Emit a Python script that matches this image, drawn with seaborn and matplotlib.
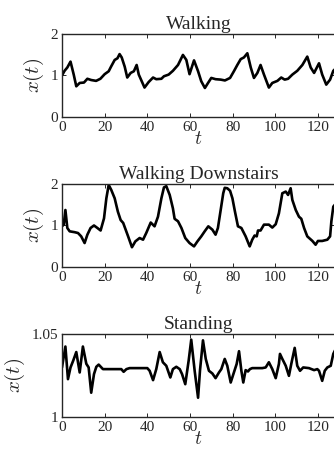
import numpy as np
import matplotlib
matplotlib.use("Agg")
import matplotlib.pyplot as plt
import seaborn as sns

# values (t, x(t)) for each activity
t_walk = [0, 1.2, 2.5, 4, 5.5, 6.7, 8.3, 10.3, 11.9, 13.7, 16, 18, 20, 21.9, 23, 24.7,
          26, 27, 28, 29.4, 30.6, 32.2, 33.7, 35, 36, 38.7, 40.6, 42.7, 44.2, 46.6,
          47.8, 50, 52, 54.4, 56.7, 58.3, 59.8, 61.9, 63.8, 65.3, 67, 68.6, 70, 72,
          74.4, 76.4, 78.8, 80.6, 82.2, 83.8, 85.3, 86.9, 88.5, 90, 91.6, 93.1, 94.7,
          97, 98.6, 101, 102.8, 104.4, 106, 108, 110.3, 112.7, 115, 116.6, 118.2,
          120.5, 122, 123.9, 125.7, 127.2, 128]
x_walk = [1.0, 1.11, 1.19, 1.33, 1.02, 0.74, 0.82, 0.83, 0.92, 0.89, 0.87, 0.92, 1.03,
          1.1, 1.21, 1.37, 1.41, 1.51, 1.43, 1.21, 0.95, 1.06, 1.1, 1.25, 1.02, 0.71,
          0.84, 0.95, 0.91, 0.92, 0.98, 1.02, 1.11, 1.25, 1.49, 1.37, 1.03, 1.36, 1.1,
          0.86, 0.70, 0.83, 0.94, 0.91, 0.90, 0.88, 0.94, 1.1, 1.25, 1.39, 1.43, 1.53,
          1.19, 0.94, 1.06, 1.25, 1.02, 0.71, 0.82, 0.87, 0.95, 0.90, 0.92, 1.02, 1.11,
          1.25, 1.45, 1.19, 1.06, 1.29, 1.02, 0.78, 0.9, 1.11, 1.15]

t_down = [0, 0.8, 1.6, 2.5, 3.6, 5.9, 7.5, 9, 10.6, 11.9, 13.4, 15, 16.6, 18.1, 19.7,
          20.8, 21.9, 23.1, 24.7, 26.2, 27.5, 28.7, 31, 32.8, 34.4, 36.4, 38, 39.5,
          41.6, 43.4, 45, 46.6, 47.8, 48.9, 50.5, 52, 52.8, 54.4, 56, 57.8, 59.8, 61.9,
          63.5, 65.3, 66.9, 68.6, 70.5, 72, 73.1, 74.4, 75.6, 76.3, 77.5, 78.8, 79.9,
          81.1, 82.5, 84.1, 86.1, 88, 89.2, 90.3, 91.3, 91.9, 93.1, 94.7, 97, 98.6,
          100.2, 101.7, 103.3, 104.9, 106, 107.2, 108, 109.6, 111.1, 112.2, 113.5, 115,
          117.4, 118.9, 120, 122, 124.4, 125.7, 126.3, 127.2, 128]
x_down = [0.98, 1.02, 1.37, 0.94, 0.86, 0.84, 0.82, 0.74, 0.58, 0.78, 0.94, 1.0, 0.94,
          0.88, 1.17, 1.65, 1.97, 1.85, 1.65, 1.33, 1.13, 1.06, 0.74, 0.48, 0.62, 0.70,
          0.66, 0.82, 1.07, 0.98, 1.21, 1.65, 1.91, 1.94, 1.73, 1.41, 1.16, 1.1, 0.94,
          0.70, 0.58, 0.50, 0.62, 0.74, 0.86, 0.98, 0.90, 0.78, 0.94, 1.37, 1.77, 1.9,
          1.89, 1.83, 1.65, 1.33, 0.98, 0.94, 0.74, 0.50, 0.66, 0.76, 0.74, 0.88, 0.88,
          1.02, 1.02, 0.95, 1.03, 1.29, 1.77, 1.81, 1.73, 1.89, 1.61, 1.37, 1.21, 1.16,
          0.94, 0.74, 0.63, 0.54, 0.63, 0.63, 0.66, 0.74, 1.1, 1.45, 1.5]

t_stand = [0, 1.6, 2.8, 4, 5.3, 6.7, 8.3, 9.8, 11.4, 12.5, 13.7, 15, 16.1, 17.2, 19.2,
           23.1, 27.8, 28.9, 30.2, 31.7, 35.6, 40, 41.1, 42.7, 44.2, 45.8, 47.3, 48.9,
           50.8, 52, 53.6, 55.2, 56.3, 57.8, 59.4, 60.6, 62.2, 63.8, 64.7, 66.1, 67.4,
           68.9, 70.5, 72, 73.6, 74.7, 76.3, 77.5, 79.1, 80.6, 81.9, 83, 84.1, 85, 86.1,
           87.2, 88.1, 89.2, 93.9, 95.5, 97, 98.6, 100.2, 101.7, 102.2, 103.3, 104.9,
           106.4, 107.5, 109.1, 110.3, 111.6, 113.1, 115.8, 118.2, 119.7, 120.5, 122,
           123.2, 124.4, 126, 127.2, 128]
x_stand = [1.0298, 1.0423, 1.0228, 1.0298, 1.034, 1.039, 1.0268, 1.0423, 1.032, 1.0298,
           1.0147, 1.0258, 1.0302, 1.0315, 1.0288, 1.0288, 1.0288, 1.0272, 1.0288,
           1.0294, 1.0294, 1.0294, 1.0278, 1.0222, 1.0288, 1.039, 1.0329, 1.0308,
           1.0238, 1.0288, 1.0302, 1.0288, 1.0258, 1.0198, 1.034, 1.0464, 1.0278,
           1.0117, 1.028, 1.046, 1.0349, 1.0278, 1.0262, 1.0234, 1.0268, 1.0288, 1.0349,
           1.0308, 1.0208, 1.0268, 1.0319, 1.0395, 1.0278, 1.0208, 1.0282, 1.0274,
           1.0288, 1.0294, 1.0294, 1.0298, 1.0329, 1.0288, 1.0234, 1.0319, 1.0379,
           1.0349, 1.0308, 1.0248, 1.0319, 1.0415, 1.0308, 1.0278, 1.0298, 1.0294,
           1.0282, 1.0288, 1.0278, 1.0218, 1.0278, 1.0298, 1.0308, 1.0379, 1.04]

titles = ["Walking", "Walking Downstairs", "Standing"]
series = [(t_walk, x_walk), (t_down, x_down), (t_stand, x_stand)]
ylims = [(0, 2), (0, 2), (1, 1.05)]
yticks = [[0, 1, 2], [0, 1, 2], [1, 1.05]]
yticklabels = [["0", "1", "2"], ["0", "1", "2"], ["1", "1.05"]]

sns.set_style("ticks")
plt.rcParams["font.family"] = "serif"
plt.rcParams["font.serif"] = ["Liberation Serif", "DejaVu Serif"]
plt.rcParams["mathtext.fontset"] = "cm"

fig = plt.figure(figsize=(3.34, 4.51), dpi=100)
bottoms = [0.740, 0.4073, 0.0747]
for i in range(3):
    ax = fig.add_axes([0.1856, bottoms[i], 0.8174, 0.1855])
    t, x = series[i]
    sns.lineplot(x=t, y=x, ax=ax, color="black", lw=1.9)
    ax.set_xlim(0, 128)
    ax.set_ylim(*ylims[i])
    ax.set_xticks(np.arange(0, 121, 20))
    ax.set_yticks(yticks[i])
    ax.set_yticklabels(yticklabels[i])
    ax.tick_params(direction="in", top=True, right=True, length=3, width=0.7,
                   labelsize=11)
    ax.tick_params(axis="x", pad=2.5)
    ax.tick_params(axis="y", pad=3)
    for s in ax.spines.values():
        s.set_linewidth(1.0)
    ax.set_title(titles[i], fontsize=14, pad=3)
    ax.set_xlabel("$t$", fontsize=14, labelpad=-2)
    ax.set_ylabel("$x(t)$", fontsize=15, labelpad=3)

fig.savefig("out.png", dpi=100)
